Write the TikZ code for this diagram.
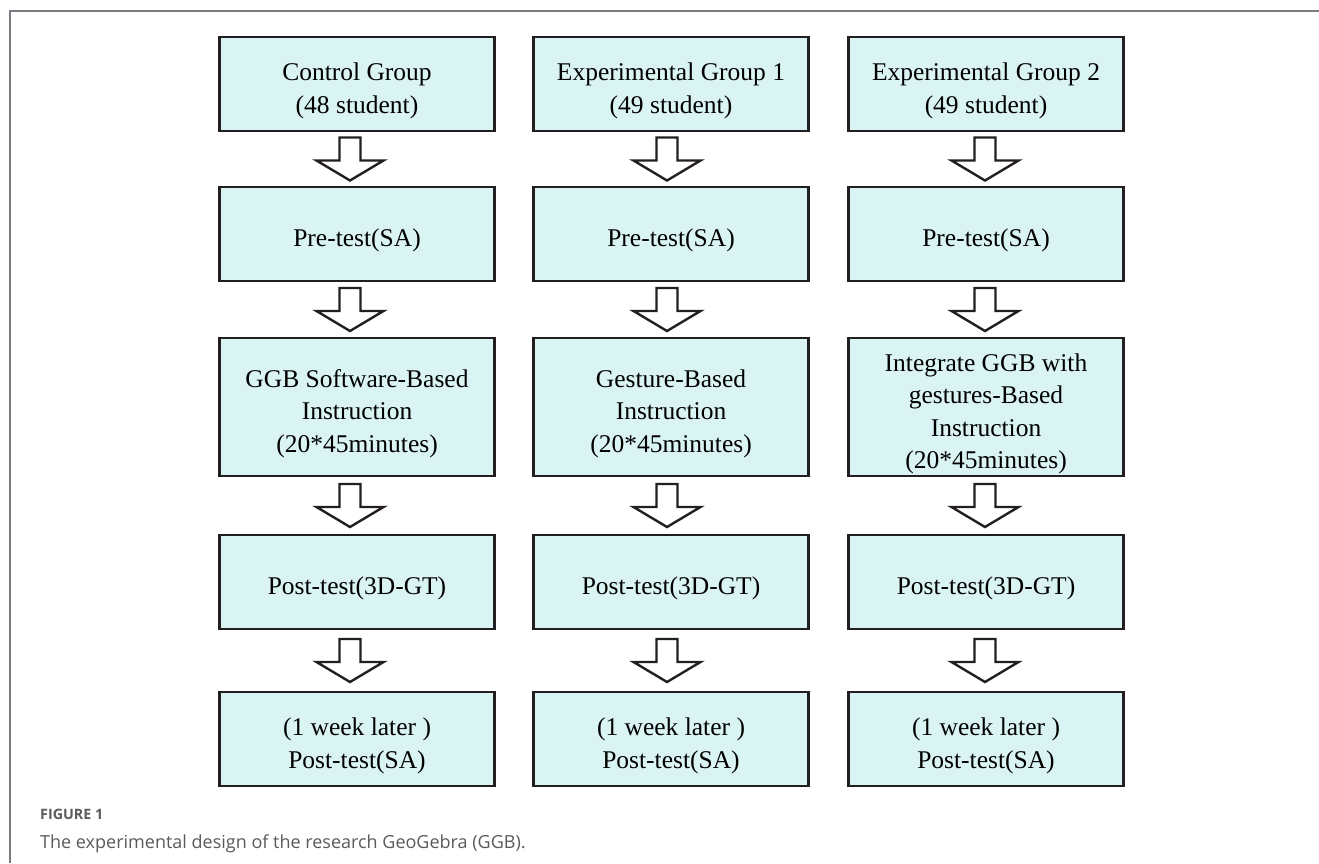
\documentclass[tikz,border=0pt]{standalone}
\usepackage{fontspec}
\setmainfont{Liberation Serif}
\newfontfamily\captionfont{Open Sans}
\usepackage{tikz}
\usetikzlibrary{positioning,calc}
\definecolor{boxfill}{HTML}{DAF3F3}
\definecolor{boxline}{HTML}{231F20}
\definecolor{framegray}{HTML}{7A7C82}
\definecolor{capgray}{HTML}{5A5A5A}
\newcommand\padtop{\rule{0pt}{31pt}}
\begin{document}
\begin{tikzpicture}[x=1pt,y=-1pt,node distance=56pt,
stage/.style={rectangle,draw=boxline,fill=boxfill,line width=2.6pt,outer sep=0pt,
minimum width=275pt,minimum height=94pt,align=center,inner sep=2pt,
font=\fontsize{25.5}{32.5}\selectfont},
tall stage/.style={stage,minimum height=138pt},
flow/.pic={\draw[draw=boxline,fill=white,line width=2.4pt] (-10.5,-21.5) --
(-10.5,1.5) -- (-33.5,1.5) -- (0,21.5) -- (33.5,1.5) -- (10.5,1.5) --
(10.5,-21.5) -- cycle;}]

    \useasboundingbox (0,0) rectangle (1319,863);
    \draw[framegray,line width=1.5pt] (10,863) -- (10,11) -- (1319,11);

    \node[stage] (ctrlgrp) at (357,84) {\padtop Control Group\\(48 student)};
    \node[stage] (expagrp) at (671,84) {\padtop Experimental Group 1\\(49 student)};
    \node[stage] (expbgrp) at (986,84) {\padtop Experimental Group 2\\(49 student)};

    \node[stage] (ctrlpre) [below=56pt of ctrlgrp] {\padtop Pre-test(SA)};
    \node[stage] (expapre) [below=56pt of expagrp] {\padtop Pre-test(SA)};
    \node[stage] (expbpre) [below=56pt of expbgrp] {\padtop Pre-test(SA)};

    \node[tall stage] (ctrlins) [below=57pt of ctrlpre]
{\padtop GGB Software-Based\\Instruction\\(20*45minutes)};
    \node[tall stage] (expains) [below=57pt of expapre]
{\padtop Gesture-Based\\Instruction\\(20*45minutes)};
    \node[tall stage] (expbins) [below=57pt of expbpre]
{\padtop Integrate GGB with\\gestures-Based\\Instruction\\(20*45minutes)};

    \node[stage] (ctrlpost) [below=59pt of ctrlins] {\padtop Post-test(3D-GT)};
    \node[stage] (expapost) [below=59pt of expains] {\padtop Post-test(3D-GT)};
    \node[stage] (expbpost) [below=59pt of expbins] {\padtop Post-test(3D-GT)};

    \node[stage] (ctrllate) [below=63pt of ctrlpost] {\padtop (1 week later )\\Post-test(SA)};
    \node[stage] (expalate) [below=63pt of expapost] {\padtop (1 week later )\\Post-test(SA)};
    \node[stage] (expblate) [below=63pt of expbpost] {\padtop (1 week later )\\Post-test(SA)};

    \foreach \col/\dx in {ctrl/-7,expa/-4,expb/-1}
      \foreach \a/\b in {grp/pre,pre/ins,ins/post,post/late}
        \pic at ($(\col\a.south)!0.5!(\col\b.north)+(\dx,0)$) {flow};

    \node[anchor=west,inner sep=0pt,text=capgray,
font=\captionfont\bfseries\fontsize{14.3}{17}\selectfont] (figlabel) at (40,814) {FIGURE 1};
    \node[anchor=west,inner sep=0pt,text=capgray,
font=\captionfont\fontsize{18}{21}\selectfont] (figcaption) at (40,844)
{The experimental design of the research GeoGebra (GGB).};
  \end{tikzpicture}
\end{document}
